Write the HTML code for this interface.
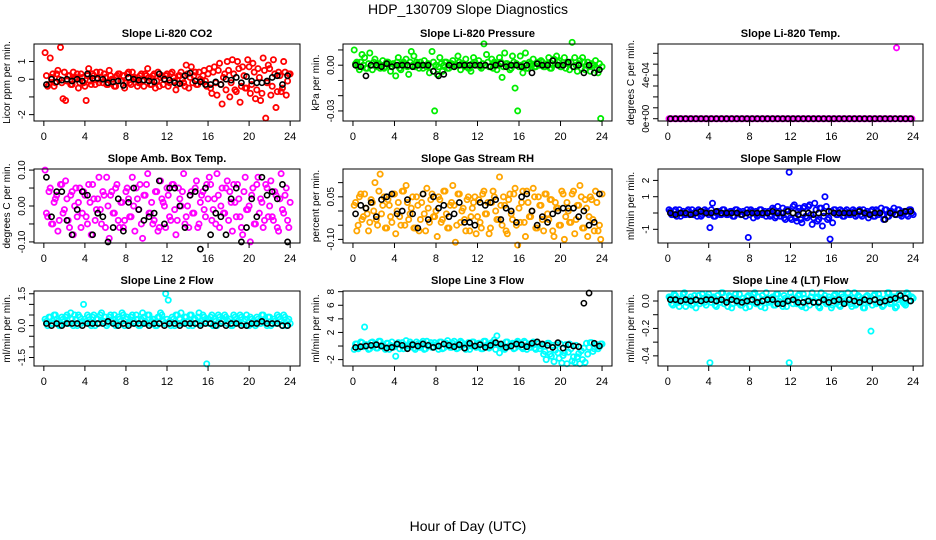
<!DOCTYPE html>
<html><head><meta charset="utf-8"><style>
body{margin:0;background:#fff}
svg{display:block;font-family:"Liberation Sans",Arial,sans-serif}
</style></head><body>
<svg id="chart" width="936" height="540" viewBox="0 0 936 540" xmlns="http://www.w3.org/2000/svg">
<rect width="936" height="540" fill="#fff"/>
<text x="468" y="14" text-anchor="middle" font-size="14">HDP_130709  Slope Diagnostics</text>
<text x="468" y="531" text-anchor="middle" font-size="14">Hour of Day (UTC)</text>
</svg>
<script>
// x ticks (hours)
const xTicks=[0,4,8,12,16,20,24];
// values; each array is in units of the panel's "div" (value = entry/div)
const co2Red=[15,-4,12,3,-2,5,18,-11,-12,2,-3,4,1,-5,3,-2,-12,6,-3,2,4,-2,1,3,-3,5,0,-4,2,3,-1,-5,3,-2,4,1,-4,2,-1,3,6,-3,2,-5,4,1,-3,2,-4,3,1,-6,2,4,-2,8,-5,7,2,-3,4,-1,5,-4,6,-8,7,-9,9,-14,3,10,-10,11,-6,10,-13,7,-5,11,-8,9,-11,6,-12,12,-22,8,-9,11,-16,4,-7,10,-9,3];
const co2Band=[2,-3,1,-4,3,0,-2,4,-1,2,-3,0,3,-2,1,-4,2,-1,3,-3,0,4,-2,1,-3,2,0,-4,3,-1,2,-2,4,-3,1,0,-2,3,-4,2,1,-3,3,-1,-4,2,0,3,-2,4,-1,-3,2,0,-4,3,1,-2,4,-3,0,2,-1,3,-5,4,-2,5,-3,1,-6,5,-2,3,-7,6,-4,2,-5,7,-3,4,-6,1,-8,5,-2,6,-4,3,-7,2,-5,4,-1,3];
const co2Black=[-3,0,-1.5,-0.5,0,-1,0,-1,3,0.5,0.5,0,-2,-1.5,-1,-3.5,1,0,-0.5,-0.5,-1,-1.5,3,0,-0.5,-2,-2.5,2,3.5,-1,-1.5,-3,-3,-1.5,-3,0,-0.5,1,-2,1.5,-1,-2,-2,-1,1,2,-3,2];
const presGreen=[10,2,-3,7,5,-2,8,-3,4,0,-2,3,-1,2,-4,1,-7,5,-3,2,4,-6,9,6,2,-2,0,3,-1,-5,9,-30,-6,5,-4,2,-2,1,3,0,6,-3,1,4,-2,-4,5,0,3,-2,14,7,-1,4,2,-3,5,-8,8,1,-3,6,-15,-30,6,-5,8,-2,1,4,-1,2,3,-1,0,5,-2,4,6,3,-1,5,2,-3,15,5,-4,3,5,-3,2,-4,0,3,-5,-35];
const presBand=[1,-1,2,0,-2,1,0,2,-1,1,0,-2,2,1,-1,0,2,-2,1,0,-1,2,0,-1,1,2,-2,0,1,-1,2,0,-1,1,0,2,-2,1,-1,0,2,1,-1,0,-2,1,2,0,-1,1,0,2,-1,-2,1,0,2,-1,1,0,-2,2,1,-1,0,1,-2,2,0,-1,1,0,2,-1,1,-2,0,1,2,-1,0,-2,1,2,-1,0,1,-2,2,0,-1,1,0,-2,1,-1];
const presBlack=[0,-1,-7,0,0,-1,1,-1,0,0,0,-1,0,0,0,-4,-7,-6,0,-1,0,0,0,0,0,0,-1,0,1,-1,0,0,-1,0,-5,1,0,0,3,0,0,2,-1,0,-5,0,-5,-3];
const tempMag=[0,0,0,0,0,0,0,0,0,0,0,0,0,0,0,0,0,0,0,0,0,0,0,0,0,0,0,0,0,0,0,0,0,0,0,0,0,0,0,0,0,0,0,0,0,0,0,0,0,0,0,0,0,0,0,0,0,0,0,0,0,0,0,0,0,0,0,0,0,0,0,0,0,0,0,0,0,0,0,0,0,0,0,0,0,0,0,0,0,6.5,0,0,0,0,0,0];
const tempBand=[0,0,0,0,0,0,0,0,0,0,0,0,0,0,0,0,0,0,0,0,0,0,0,0,0,0,0,0,0,0,0,0,0,0,0,0,0,0,0,0,0,0,0,0,0,0,0,0];
const tempBlack=[0,0,0,0,0,0,0,0,0,0,0,0,0,0,0,0,0,0,0,0,0,0,0,0,0,0,0,0,0,0,0,0,0,0,0,0,0,0,0,0,0,0,0,0,0,0,0,0];
const ambMag=[10,-3,5,-5,2,-7,6,-2,7,-4,3,-8,5,1,-6,4,-3,6,-8,2,-1,8,-5,3,8,-9,4,-2,6,-6,1,-4,5,-3,8,-7,2,6,-9,3,9,-2,-5,4,-7,7,1,-6,3,-4,6,-8,5,0,9,-3,-6,4,-2,7,-5,3,-1,6,8,-4,2,9,-6,5,-2,7,4,-7,1,6,-3,-8,8,-1,-10,5,-5,8,2,-6,6,-3,7,-4,3,-7,9,-2,5,-6];
const ambBand=[-2,4,-5,1,3,-4,6,-1,2,-6,4,0,-3,5,-2,3,-5,1,6,-4,2,-1,4,-6,0,3,-2,5,-4,1,-6,4,2,-3,0,5,-1,-5,3,6,-2,1,-4,4,-6,2,0,5,-3,6,-1,-4,2,4,-5,0,3,-2,5,-6,1,4,-3,2,6,-1,-5,3,0,-2,5,-4,1,6,-3,2,-6,4,-1,0,3,-5,6,-2,1,-4,5,0,-3,4,-6,2,-1,3,-4,1];
const ambBlack=[8,-3,4,4,-4,-8,-1,4,3,-8,-2,-3,-10,-6,2,-7,1,5,-1,-4,-3,-2,7,-5,5,5,0,-6,3,4,-12,5,-8,-2,-3,-8,2,5,-10,-6,2,-3,8,3,4,2,6,-10];
const rhOrange=[2,-7,5,-3,6,-1,-4,3,10,-5,13,2,-6,4,-2,6,-8,3,-5,7,9,-3,1,-6,5,-7,3,-1,8,-4,6,-2,-9,4,-3,7,-6,2,9,-11,6,-4,1,-7,5,-2,3,-8,4,-6,7,-1,-8,3,5,-3,12,-5,2,-8,6,-3,8,-12,-4,7,-9,3,-2,8,-6,5,2,-7,6,-3,4,-9,1,-5,7,-10,3,-4,6,-8,2,9,-6,4,-9,5,-3,7,-7,-10];
const rhBand=[3,-5,6,-2,1,-7,4,0,-3,7,-1,5,-6,2,-4,6,0,-2,7,-5,3,-1,5,-6,2,-3,6,-7,1,4,-2,0,5,-4,7,-1,-6,3,2,-5,6,0,-3,4,-7,1,5,-2,-4,6,-1,3,-6,7,0,-3,2,5,-7,4,-1,6,-5,1,3,-4,7,-2,0,5,-6,2,-3,6,-1,4,-7,3,1,-5,6,-2,0,-4,7,-3,2,5,-6,1,-2,4,-7,3,-5,6];
const rhBlack=[-1,2,1,3,-2,4,5,6,-1,0,4,-1,-6,6,-3,5,1,2,-2,-1,3,-4,-4,-5,3,2,3,4,-3,1,0,-4,5,6,0,-5,-2,-4,-1,0,1,1,1,-2,0,-5,-4,6];
const sampBlue=[2,-1,1,-2,2,0,-1,1,-1,2,0,-2,1,-1,2,0,-9,6,-2,1,-1,2,0,-1,1,-2,2,0,-1,1,-2,-15,2,-3,1,-1,2,0,-2,1,-1,2,-2,1,0,-3,2,25,-4,5,-5,3,-6,4,-3,5,-7,6,-5,3,-8,10,-4,-16,-6,2,-1,2,-2,1,0,-1,2,-2,1,-1,2,0,-3,1,-2,2,-1,3,-4,2,-2,1,3,-1,2,-2,1,-1,2,0];
const sampBand=[1,-1,2,0,-2,1,-1,2,0,-1,1,2,-2,0,1,-1,2,-2,0,1,-1,2,-1,0,1,-2,2,1,-1,0,2,-1,1,0,-2,2,-1,1,0,-2,3,-3,4,-2,3,-4,2,-3,4,-3,1,-4,3,-2,4,-1,-3,2,-4,3,-2,4,-3,1,2,-1,0,1,-2,2,-1,0,1,-1,2,-2,0,1,-1,2,-2,1,0,-1,2,-2,1,0,-1,2,-1,0,1,-2,2,-1];
const sampBlack=[0,-1,0,0,-1,0,1,0,0,1,0,0,0,0,-1,0,0,0,0,0,1,0,0,1,0,-1,0,0,-1,0,0,1,0,0,0,0,0,1,0,-1,0,0,-4,0,-1,0,1,1];
const l2Cyan=[3,0,4,1,5,2,0,3,4,1,6,0,3,5,1,10,2,4,0,5,3,1,6,2,0,4,2,5,1,3,6,0,4,2,5,1,3,0,6,2,5,1,3,0,4,6,2,15,12,0,3,5,1,6,2,4,0,5,3,1,6,2,4,-18,1,5,3,0,4,2,5,1,3,0,4,2,5,1,3,0,4,2,0,3,1,5,2,4,0,3,1,4,2,5,0,3];
const l2Band=[2,4,1,5,3,0,4,2,5,1,3,5,0,4,2,3,5,1,4,0,3,5,2,4,1,5,3,0,4,2,5,3,1,4,2,5,0,3,4,1,5,2,3,0,4,5,1,3,2,4,0,5,3,1,4,2,5,0,3,4,1,5,2,3,4,0,2,5,1,3,4,2,0,5,3,1,4,2,5,0,3,1,4,2,5,3,0,4,1,2,5,3,0,4,2,1];
const l2Black=[1,0,1,0,1,1,1,0,1,1,1,1,2,1,0,1,0,1,1,1,0,1,1,0,1,1,0,1,1,1,0,1,1,0,1,0,1,1,0,0,1,1,2,1,1,1,0,0];
const l3Cyan=[-5,3,-2,5,28,1,-4,6,2,-3,7,0,-5,4,1,-2,-15,5,2,-4,8,0,3,-3,6,-1,4,-5,7,2,-2,5,0,6,-4,3,8,-2,4,1,-3,7,2,-5,5,0,6,-2,4,-4,7,1,-3,5,9,15,-10,3,-5,6,0,4,-3,7,2,-4,5,1,-2,6,-5,3,0,-12,-20,4,-15,-23,2,-18,-25,-10,-26,3,-22,-24,-16,-26,-20,-24,-12,5,-8,2,-4,3];
const l3Band=[3,-4,6,-1,2,-5,5,0,-3,7,1,-2,4,-5,6,-1,2,-4,5,0,-3,6,1,-5,3,-2,7,-4,0,5,-1,2,-5,6,-3,4,0,-2,7,-4,1,5,-3,2,-5,6,0,-1,4,-4,7,-2,1,5,-5,3,0,-3,6,-1,2,-4,5,0,-2,7,-5,3,1,-3,6,-4,2,-8,4,-12,1,-6,-10,3,-14,2,-9,-4,-16,1,-11,-7,-3,4,-2,5,-4,2,-1,3];
const l3Black=[-2,-1,0,1,2,0,-3,-2,3,1,-4,2,0,3,1,-2,0,3,1,-1,2,-3,4,0,2,-2,1,5,3,-2,0,3,2,-1,4,6,3,1,-2,5,-3,2,0,-1,63,78,4,0];
const l4Cyan=[3,-2,5,0,-4,2,6,-1,1,-3,4,0,-2,5,-1,3,-45,2,-3,4,-1,6,0,-4,3,-2,5,1,-3,2,-5,4,0,5,-2,3,-4,1,6,-1,2,-3,5,0,-2,4,-4,-45,3,1,-2,5,-4,2,0,-3,6,-1,3,-5,2,4,-2,1,-3,5,0,-4,3,-1,6,-2,2,-3,4,1,-5,3,-1,-22,4,-2,5,0,-3,2,6,-1,3,-4,5,1,-2,6,0,3];
const l4Band=[2,-3,4,-1,0,5,-4,1,3,-2,-5,4,0,2,-3,5,-1,3,-4,1,6,-2,0,4,-5,2,-1,5,-3,0,3,-4,1,6,-2,-1,4,-5,2,0,3,-3,5,-1,-4,2,1,6,-2,0,4,-3,5,-5,1,3,-1,2,-4,6,0,-2,3,-5,4,1,-3,5,0,-1,2,-4,6,-2,3,0,-5,4,1,-3,5,-1,2,-4,0,6,-2,3,-5,1,4,-1,-3,5,0,2];
const l4Black=[1,1,0,1,0,1,0,1,1,0,1,-1,1,0,-1,0,1,-1,0,1,1,-2,-2,0,1,-1,-1,0,-1,-1,1,-1,0,1,-2,1,0,-1,1,0,1,-1,0,1,2,4,2,0];

const cols=[[34,300],[343,612],[658,923]];
const rows=[[44,121],[169,243],[291,366]];
const panels=[
 {t:"Slope Li-820 CO2",yl:"Licor ppm per min.",c:0,r:0,lo:-2.36,hi:1.99,div:10,col:"#ff0000",a:co2Red,d:co2Band,b:co2Black,ticks:[-2,-1,0,1],labs:["-2","","0","1"]},
 {t:"Slope Li-820 Pressure",yl:"kPa per min.",c:1,r:0,lo:-0.0366,hi:0.0139,div:1000,col:"#00ee00",a:presGreen,d:presBand,b:presBlack,ticks:[-0.03,-0.02,-0.01,0,0.01],labs:["-0.03","","","0.00",""]},
 {t:"Slope Li-820 Temp.",yl:"degrees C per min.",c:2,r:0,lo:-0.000021,hi:0.000685,div:10000,col:"#ff00ff",a:tempMag,d:tempBand,b:tempBlack,ticks:[0,0.0001,0.0002,0.0003,0.0004,0.0005,0.0006],labs:["0e+00","","","","4e-04","",""]},
 {t:"Slope Amb. Box Temp.",yl:"degrees C per min.",c:0,r:1,lo:-0.103,hi:0.103,div:100,col:"#ff00ff",a:ambMag,d:ambBand,b:ambBlack,ticks:[-0.1,-0.05,0,0.05,0.1],labs:["-0.10","","0.00","","0.10"]},
 {t:"Slope Gas Stream RH",yl:"percent per min.",c:1,r:1,lo:-0.1127,hi:0.148,div:100,col:"#ffa500",a:rhOrange,d:rhBand,b:rhBlack,ticks:[-0.1,-0.05,0,0.05,0.1],labs:["-0.10","","","0.05",""]},
 {t:"Slope Sample Flow",yl:"ml/min per min.",c:2,r:1,lo:-1.84,hi:2.70,div:10,col:"#0000ff",a:sampBlue,d:sampBand,b:sampBlack,ticks:[-1,0,1,2],labs:["-1","","1","2"]},
 {t:"Slope Line 2 Flow",yl:"ml/min per min.",c:0,r:2,lo:-1.90,hi:1.63,div:10,col:"#00ffff",a:l2Cyan,d:l2Band,b:l2Black,ticks:[-1.5,-1,-0.5,0,0.5,1,1.5],labs:["-1.5","","","0.0","","","1.5"]},
 {t:"Slope Line 3 Flow",yl:"ml/min per min.",c:1,r:2,lo:-2.94,hi:8.1,div:10,col:"#00ffff",a:l3Cyan,d:l3Band,b:l3Black,ticks:[-2,0,2,4,6,8],labs:["-2","","2","4","6","8"]},
 {t:"Slope Line 4 (LT) Flow",yl:"ml/min per min.",c:2,r:2,lo:-0.474,hi:0.073,div:100,col:"#00ffff",a:l4Cyan,d:l4Band,b:l4Black,ticks:[-0.4,-0.3,-0.2,-0.1,0],labs:["-0.4","","-0.2","","0.0"]}
];
const NS="http://www.w3.org/2000/svg";
const svg=document.getElementById('chart');
function mk(tag,at,parent){const e=document.createElementNS(NS,tag);for(const k in at)e.setAttribute(k,at[k]);(parent||svg).appendChild(e);return e;}
panels.forEach((p,pi)=>{
 const [x0,x1]=cols[p.c],[y0,y1]=rows[p.r];
 const xs=h=>x0+(x1-x0)*(h+0.96)/(24+1.92);
 const ys=v=>y1-(y1-y0)*(v-p.lo)/(p.hi-p.lo);
 const g=mk('g',{});
 
 
 const tt=mk('text',{x:(x0+x1)/2,y:y0-7,'text-anchor':'middle','font-size':11,'font-weight':'bold'},g);tt.textContent=p.t;
 
 
 const yl=mk('text',{transform:`translate(${x0-24},${(y0+y1)/2}) rotate(-90)`,'text-anchor':'middle','font-size':10},g);yl.textContent=p.yl;
 
 
 const pts=mk('g',{fill:'none','stroke-width':1.8},g);
 
 
 p.d.forEach((v,i)=>{const c=mk('circle',{cx:xs(i*24/p.d.length+0.25),cy:ys(v/p.div),r:2.6,stroke:p.col},pts);
  
  });
 p.a.forEach((v,i)=>{const c=mk('circle',{cx:xs(i*24/p.a.length+0.12),cy:ys(v/p.div),r:2.6,stroke:p.col},pts);
  
  });
 p.b.forEach((v,i)=>{const c=mk('circle',{cx:xs((i+0.5)*24/p.b.length),cy:ys(v/p.div),r:2.6,stroke:'#000','stroke-width':1.6},pts);
  
  });
 const bx=mk('rect',{x:x0,y:y0,width:x1-x0,height:y1-y0,fill:'none',stroke:'#000','stroke-width':1},g);
 
 
 const xa=mk('g',{},g);
 
 
 mk('line',{x1:xs(0),x2:xs(24),y1:y1,y2:y1,stroke:'#000'},xa);
 xTicks.forEach(h=>{mk('line',{x1:xs(h),x2:xs(h),y1:y1,y2:y1+5,stroke:'#000'},xa);
  const t=mk('text',{x:xs(h),y:y1+19,'text-anchor':'middle','font-size':11},xa);t.textContent=h;
  
  });
 const ya=mk('g',{},g);
 
 
 p.ticks.forEach((v,i)=>{const y=ys(v);mk('line',{x1:x0-5,x2:x0,y1:y,y2:y,stroke:'#000'},ya);
  if(p.labs[i]){const t=mk('text',{transform:`translate(${x0-9},${y}) rotate(-90)`,'text-anchor':'middle','font-size':10},ya);t.textContent=p.labs[i];
   
   }});
});
</script>
</body></html>
